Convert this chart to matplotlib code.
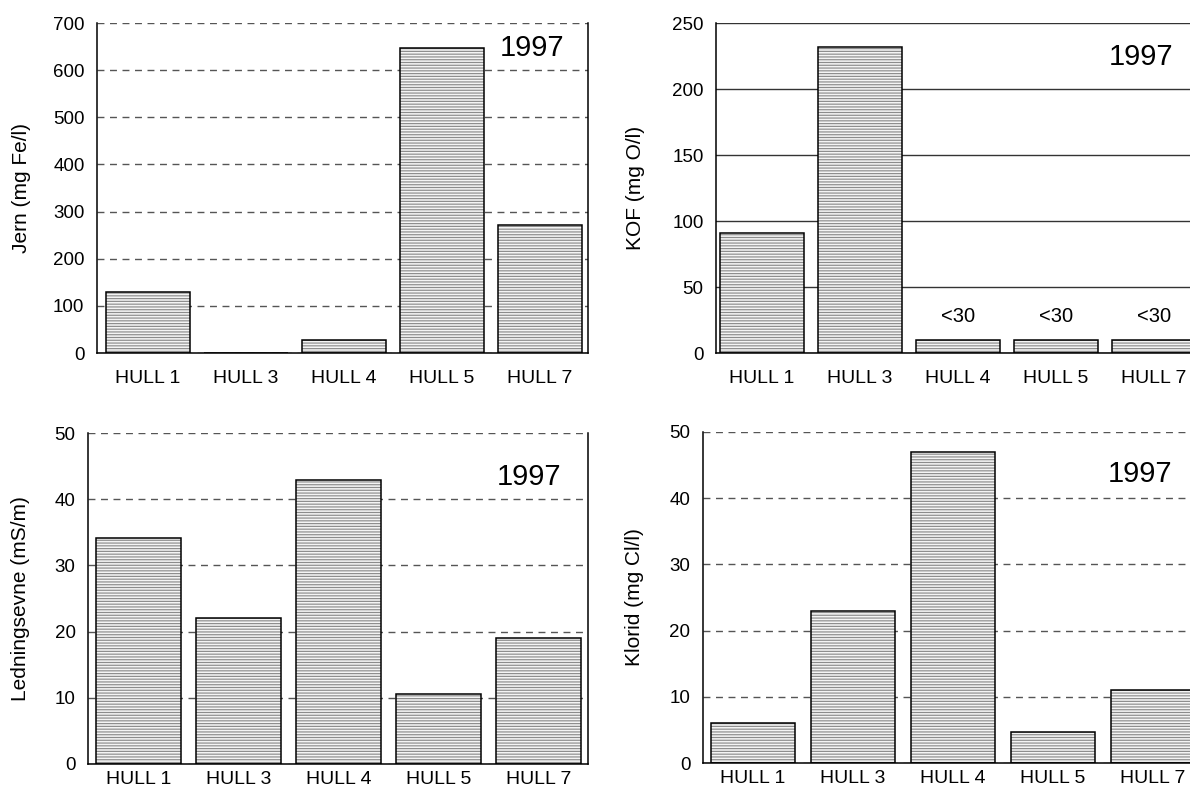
import matplotlib
matplotlib.use("Agg")
import matplotlib.pyplot as plt

plt.rcParams['font.family'] = ['Liberation Sans', 'DejaVu Sans']
plt.rcParams['hatch.linewidth'] = 0.85

hull = ["HULL 1", "HULL 3", "HULL 4", "HULL 5", "HULL 7"]

jern = [130, 1, 27, 648, 272]
kof = [91, 232, 10, 10, 10]
kof_labels = ["", "", "<30", "<30", "<30"]
ledningsevne = [34.2, 22.1, 42.9, 10.6, 19.1]
klorid = [6.0, 23.0, 47.0, 4.7, 11.0]

jern_ticks = [0, 100, 200, 300, 400, 500, 600, 700]
kof_ticks = [0, 50, 100, 150, 200, 250]
led_ticks = [0, 10, 20, 30, 40, 50]
klorid_ticks = [0, 10, 20, 30, 40, 50]

W, H = 1190, 794


def panel(rect, values, ticks, ylabel, xlim, width, grid_style, year_pos,
          ylabel_x, xpad):
    ax = fig.add_axes(rect)
    x = range(len(values))
    # hatched fill first, black outline on top
    ax.bar(x, values, width=width, color="#f4f4f4", edgecolor="#8c8c8c",
           hatch="-" * 6, linewidth=0, zorder=2)
    ax.bar(x, values, width=width, fill=False, edgecolor="black",
           linewidth=1.1, zorder=3)
    ax.set_xlim(*xlim)
    ax.set_ylim(ticks[0], ticks[-1])
    ax.set_yticks(ticks)
    ax.set_xticks(list(x))
    ax.set_xticklabels(hull, fontsize=14)
    ax.tick_params(axis='y', length=0, pad=9, labelsize=13.5)
    ax.tick_params(axis='x', length=0, pad=xpad)
    if grid_style == "dashed":
        ax.yaxis.grid(True, color="#555555", linestyle=(0, (5, 4)), linewidth=1.0, zorder=1)
    else:
        ax.yaxis.grid(True, color="#333333", linestyle="-", linewidth=1.0, zorder=1)
    ax.set_axisbelow(True)
    ax.spines['top'].set_visible(False)
    for side in ('left', 'bottom', 'right'):
        ax.spines[side].set_linewidth(1.1)
    ax.set_ylabel(ylabel, fontsize=15)
    ax.yaxis.set_label_coords(ylabel_x, 0.5)
    ax.text(year_pos[0], year_pos[1], "1997", transform=ax.transAxes,
            fontsize=21, ha="center", va="center")
    return ax


fig = plt.figure(figsize=(W / 100, H / 100), dpi=100)

ax1 = panel([97 / W, 441 / H, 491 / W, 330 / H], jern, jern_ticks,
            "Jern (mg Fe/l)", (-0.52, 4.49), 0.857, "dashed", (0.886, 0.924),
            (31 - 97) / 491, 12)

ax2 = panel([716 / W, 441 / H, 487 / W, 330 / H], kof, kof_ticks,
            "KOF (mg O/l)", (-0.47, 4.5), 0.857, "solid", (0.873, 0.897),
            (645 - 716) / 487, 12)
for i, lab in enumerate(kof_labels):
    if lab:
        ax2.text(i, 28, lab, ha="center", va="center", fontsize=14.5)

ax3 = panel([88 / W, 30 / H, 500 / W, 331 / H], ledningsevne, led_ticks,
            "Ledningsevne (mS/m)", (-0.505, 4.495), 0.85, "dashed", (0.882, 0.867),
            (30 - 88) / 500, 5)

ax4 = panel([703 / W, 31 / H, 500 / W, 331 / H], klorid, klorid_ticks,
            "Klorid (mg Cl/l)", (-0.5, 4.5), 0.845, "dashed", (0.874, 0.873),
            (644 - 703) / 500, 5)

fig.savefig("out.png", dpi=100)
